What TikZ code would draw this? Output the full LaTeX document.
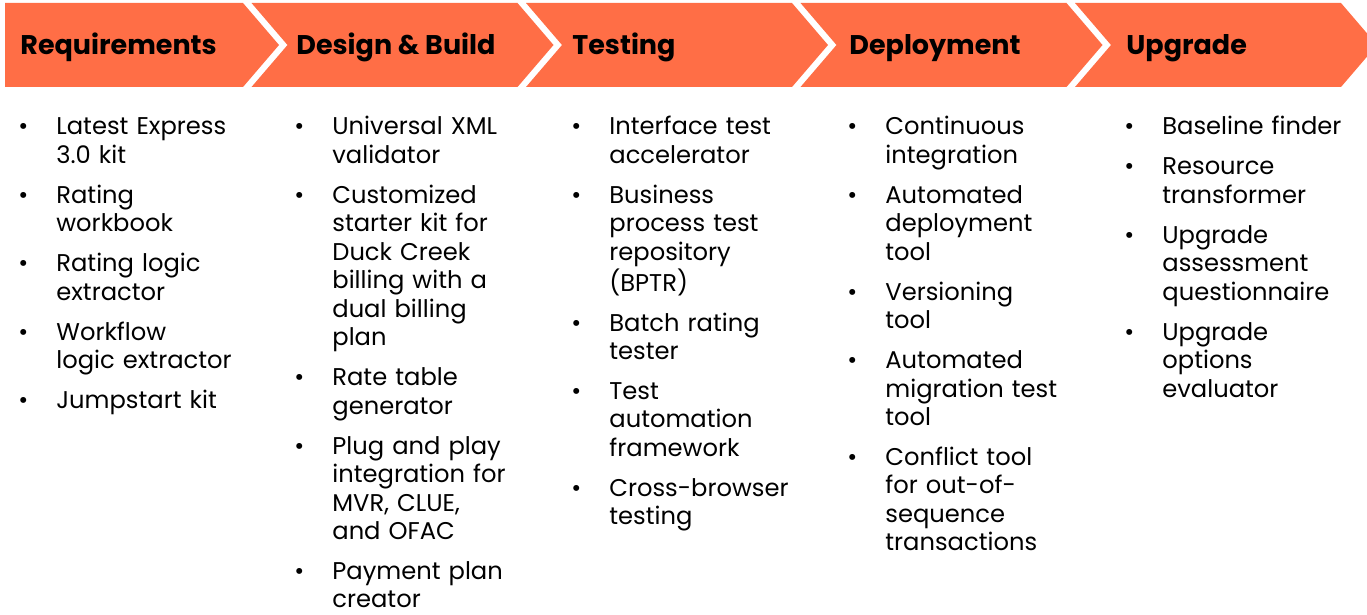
\documentclass[tikz,border=0pt]{standalone}
\usepackage{fontspec}
\setmainfont{Poppins}
\usepackage{enumitem}
\definecolor{stageorange}{HTML}{FF6E46}

% list of tools under each stage
\newcommand{\toolitems}[1]{%
  \begin{itemize}[leftmargin=16.5pt,labelsep=14pt,itemsep=5.7pt,topsep=0pt,parsep=0pt,partopsep=0pt,label=\textbullet]
  #1
  \end{itemize}}

\tikzset{
  stage/.style={fill=stageorange},
  stagename/.style={anchor=base west, inner sep=0pt, font=\fontsize{13.5}{16}\selectfont\bfseries},
  toollist/.style={anchor=north west, inner sep=0pt, text width=130pt, align=left,
    font=\fontsize{12.1}{14.25}\selectfont}
}

\begin{document}
\begin{tikzpicture}[x=0.5pt,y=-0.5pt]
	\useasboundingbox (0,0) rectangle (1367,615);
	\clip (0,0) rectangle (1367,615);

	% chevrons
	\fill[stage] (5,3) -- (243,3) -- (279,45) -- (243,87) -- (5,87) -- cycle;
	\foreach \i in {1,...,4}{
		\pgfmathsetmacro\xl{251.5+274.5*(\i-1)}
		\pgfmathsetmacro\xr{243+274.5*\i}
		\fill[stage] (\xl,3) -- (\xr,3) -- ({\xr+36},45) -- (\xr,87) -- (\xl,87) -- ({\xl+36},45) -- cycle;
	}

	% stage names
	\node[stagename] (req) at (20,55) {Requirements};
	\node[stagename] (build) at (296,55) {Design \& Build};
	\node[stagename] (test) at (572,55) {Testing};
	\node[stagename] (deploy) at (849,55) {Deployment};
	\node[stagename] (upgrade) at (1126,55) {Upgrade};

	% tools
	\node[toollist] (reqtools) at (23,106) {\toolitems{
		\item Latest Express\\3.0 kit
		\item Rating\\workbook
		\item Rating logic\\extractor
		\item Workflow\\logic extractor
		\item Jumpstart kit}};
	\node[toollist] (buildtools) at (299,106) {\toolitems{
		\item Universal XML\\validator
		\item Customized\\starter kit for\\Duck Creek\\billing with a\\dual billing\\plan
		\item Rate table\\generator
		\item Plug and play\\integration for\\MVR, CLUE,\\and OFAC
		\item Payment plan\\creator}};
	\node[toollist] (testtools) at (576,106) {\toolitems{
		\item Interface test\\accelerator
		\item Business\\process test\\repository\\(BPTR)
		\item Batch rating\\tester
		\item Test\\automation\\framework
		\item Cross-browser\\testing}};
	\node[toollist] (deploytools) at (852,106) {\toolitems{
		\item Continuous\\integration
		\item Automated\\deployment\\tool
		\item Versioning\\tool
		\item Automated\\migration test\\tool
		\item Conflict tool\\for out-of-\\sequence\\transactions}};
	\node[toollist] (upgradetools) at (1129,106) {\toolitems{
		\item Baseline finder
		\item Resource\\transformer
		\item Upgrade\\assessment\\questionnaire
		\item Upgrade\\options\\evaluator}};
\end{tikzpicture}
\end{document}
